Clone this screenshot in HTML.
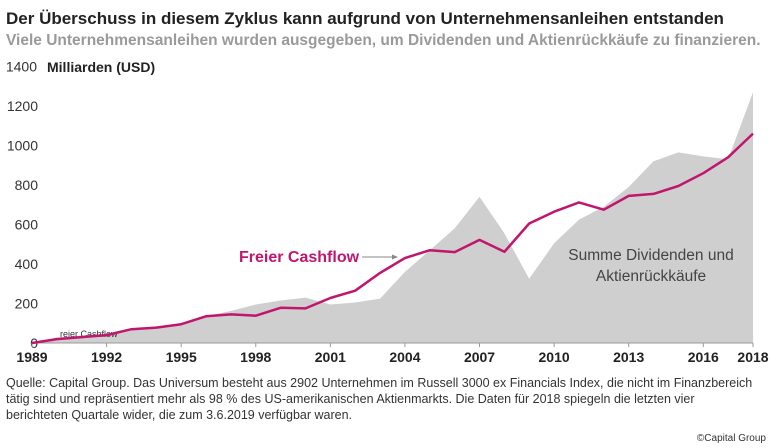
<!DOCTYPE html>
<html><head><meta charset="utf-8"><style>
body{margin:0;background:#fff;width:771px;height:448px;overflow:hidden;font-family:"Liberation Sans",sans-serif}
svg{position:absolute;left:0;top:0}
</style></head><body>
<svg id="s" width="771" height="448" xmlns="http://www.w3.org/2000/svg" font-family="Liberation Sans, sans-serif">
<text x="6" y="24" font-size="17" font-weight="bold" fill="#222">Der Überschuss in diesem Zyklus kann aufgrund von Unternehmensanleihen entstanden</text>
<text x="6" y="45" font-size="15.5" font-weight="bold" fill="#9a9a9a">Viele Unternehmensanleihen wurden ausgegeben, um Dividenden und Aktienrückkäufe zu finanzieren.</text>
<text x="47" y="72" font-size="14" font-weight="bold" fill="#222">Milliarden (USD)</text>
<g id="area"></g>
<g id="yl" font-size="14" fill="#333" text-anchor="end"></g>
<g id="xl" font-size="14" font-weight="bold" fill="#222" text-anchor="middle"></g>
<line x1="32" y1="343" x2="753" y2="343" stroke="#999" stroke-width="1"/>
<text x="60" y="337" font-size="9" fill="#333">reier Cashflow</text>
<text x="239" y="262" font-size="16" font-weight="bold" fill="#c0166e">Freier Cashflow</text>
<line x1="362" y1="257" x2="395" y2="257" stroke="#888" stroke-width="1"/>
<polygon points="398,257 392,254.5 392,259.5" fill="#888"/>
<text x="651" y="260" font-size="15.5" fill="#444" text-anchor="middle">Summe Dividenden und</text>
<text x="651" y="281" font-size="15.5" fill="#444" text-anchor="middle">Aktienrückkäufe</text>
<g id="line"></g>
<text x="6" y="387" font-size="12.5" fill="#333">Quelle: Capital Group. Das Universum besteht aus 2902 Unternehmen im Russell 3000 ex Financials Index, die nicht im Finanzbereich</text>
<text x="6" y="403" font-size="12.5" fill="#333">tätig sind und repräsentiert mehr als 98 % des US-amerikanischen Aktienmarkts. Die Daten für 2018 spiegeln die letzten vier</text>
<text x="6" y="419" font-size="12.5" fill="#333">berichteten Quartale wider, die zum 3.6.2019 verfügbar waren.</text>
<text x="766" y="441" font-size="10" fill="#333" text-anchor="end">©Capital Group</text>
</svg>
<script>
var X=y=>32+(y-1989)*24.862,Y=v=>343-v*0.1975;
var A=[0,28,38,48,72,82,98,135,162,195,215,230,195,205,225,360,470,580,740,555,325,505,625,690,790,920,965,945,930,1270];
var L=[0,20,30,40,70,78,95,135,145,138,178,175,228,265,355,430,470,460,522,462,605,665,712,675,745,755,795,860,940,1060];
var ns="http://www.w3.org/2000/svg";
function el(t,a,p){var e=document.createElementNS(ns,t);for(var k in a)e.setAttribute(k,a[k]);document.getElementById(p).appendChild(e);return e;}
var pa="32,343 ";for(var i=0;i<30;i++)pa+=X(1989+i).toFixed(1)+","+Y(A[i]).toFixed(1)+" ";pa+="753,343";
el("polygon",{points:pa,fill:"#cfcfcf"},"area");
var pl="";for(var i=0;i<30;i++)pl+=X(1989+i).toFixed(1)+","+Y(L[i]).toFixed(1)+" ";
el("polyline",{points:pl,fill:"none",stroke:"#c0166e","stroke-width":2.5,"stroke-linejoin":"round"},"line");
for(var v=0;v<=1400;v+=200){el("text",{x:v==1400?37:38,y:Y(v)+5},"yl").textContent=v;}
for(var yr=1989;yr<=2016;yr+=3){var x=X(yr);el("text",{x:x,y:362},"xl").textContent=yr;el("line",{x1:x,y1:343,x2:x,y2:347,stroke:"#999"},"xl");}
el("text",{x:753,y:362},"xl").textContent=2018;el("line",{x1:753,y1:343,x2:753,y2:347,stroke:"#999"},"xl");
</script>
</body></html>
